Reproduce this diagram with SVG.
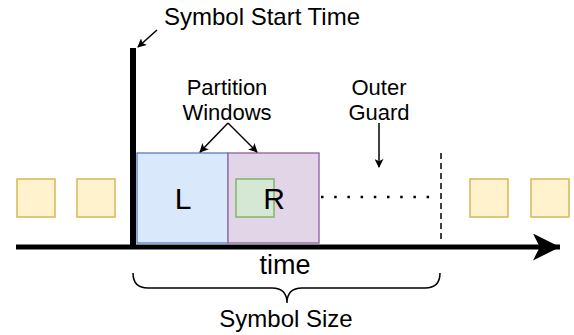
<svg xmlns="http://www.w3.org/2000/svg" width="574" height="335" viewBox="0 0 574 335">
<style>
text{font-family:"Liberation Sans",Arial,sans-serif;fill:#000;text-anchor:middle}
.y{fill:#fff2cc;stroke:#d6b656;stroke-width:1.5}
.lbl{font-size:22px}
.big{font-size:24px}
.conn{stroke:#000;stroke-width:1.5;fill:none}
</style>
<defs>
<marker id="ah" viewBox="0 0 10 10" refX="9" refY="5" markerWidth="9" markerHeight="9" orient="auto" markerUnits="userSpaceOnUse">
<path d="M0,0 L10,5 L0,10 L2.5,5 Z" fill="#000"/>
</marker>
<marker id="big" viewBox="0 0 10 10" refX="10" refY="5" markerWidth="27" markerHeight="27" orient="auto" markerUnits="userSpaceOnUse">
<path d="M0,0 L10,5 L0,10 L2.5,5 Z" fill="#000"/>
</marker>
</defs>
<g id="sym-left-1"><rect class="y" x="17" y="179" width="38" height="38"/></g>
<g id="sym-left-2"><rect class="y" x="77" y="179" width="38" height="38"/></g>
<g id="sym-right-1"><rect class="y" x="470" y="179" width="38" height="38"/></g>
<g id="sym-right-2"><rect class="y" x="531" y="179" width="38" height="38"/></g>
<g id="win-L"><rect x="137" y="153" width="91" height="90" fill="#dae8fc" stroke="#6c8ebf" stroke-width="1.5"/><text x="183" y="209" font-size="30">L</text></g>
<g id="win-R"><rect x="228" y="153" width="91" height="90" fill="#e1d5e7" stroke="#9673a6" stroke-width="1.5"/>
<rect x="236" y="179" width="38" height="38" fill="#d5e8d4" stroke="#82b366" stroke-width="1.5"/><text x="274" y="209" font-size="30">R</text></g>
<g id="labels">
<text class="big" x="262" y="25">Symbol Start Time</text>
<text class="lbl" x="227" y="95">Partition</text>
<text class="lbl" x="227" y="120">Windows</text>
<text class="lbl" x="379" y="95">Outer</text>
<text class="lbl" x="379" y="120">Guard</text>
<text x="285" y="274" font-size="27">time</text>
<text class="big" x="286" y="327">Symbol Size</text>
</g>
<g id="connectors">
<line x1="133" y1="48" x2="133" y2="246" stroke="#000" stroke-width="6"/>
<line x1="16" y1="247" x2="560" y2="247" stroke="#000" stroke-width="5" marker-end="url(#big)"/>
<line class="conn" x1="157" y1="30" x2="138" y2="47" marker-end="url(#ah)"/>
<line class="conn" x1="228" y1="123" x2="200" y2="152" marker-end="url(#ah)"/>
<line class="conn" x1="228" y1="123" x2="257" y2="152" marker-end="url(#ah)"/>
<line class="conn" x1="379" y1="123" x2="379" y2="167" marker-end="url(#ah)"/>
<line x1="321" y1="197" x2="434" y2="197" stroke="#000" stroke-width="2.5" stroke-dasharray="2.5,10.7"/>
<line x1="441" y1="153" x2="441" y2="240" stroke="#000" stroke-width="1.5" stroke-dasharray="6,4"/>
<path class="conn" d="M133,273 Q133,288 148,288 L272,288 Q287,288 287,303 Q287,288 302,288 L425,288 Q440,288 440,273" stroke-width="1.2"/>
</g>
</svg>
